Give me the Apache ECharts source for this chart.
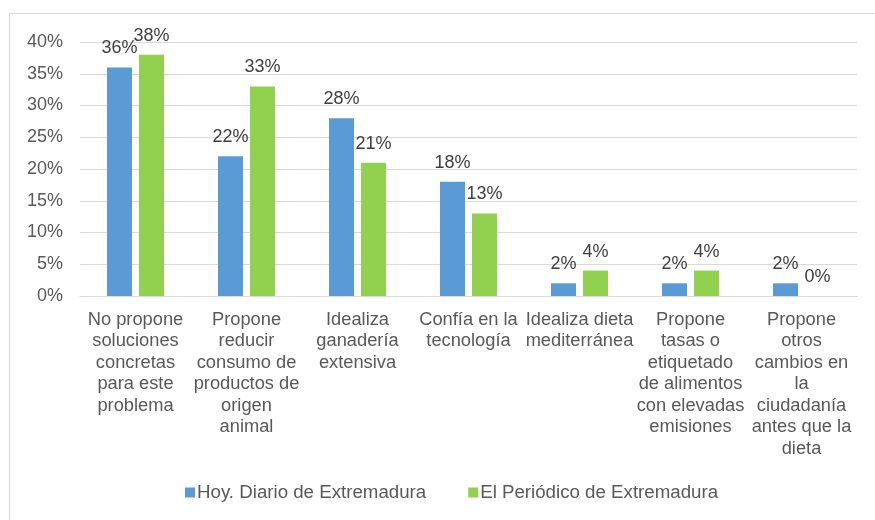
<!DOCTYPE html>
<html>
<head>
<meta charset="utf-8">
<script src="https://cdn.jsdelivr.net/npm/echarts@6/dist/echarts.min.js"></script>
<style>
  html, body { margin: 0; padding: 0; background: #fff; }
  #chart { width: 875px; height: 520px; }
</style>
</head>
<body>
<div id="chart"></div>
<script>
const categories = [
  'No propone\nsoluciones\nconcretas\npara este\nproblema',
  'Propone\nreducir\nconsumo de\nproductos de\norigen\nanimal',
  'Idealiza\nganadería\nextensiva',
  'Confía en la\ntecnología',
  'Idealiza dieta\nmediterránea',
  'Propone\ntasas o\netiquetado\nde alimentos\ncon elevadas\nemisiones',
  'Propone\notros\ncambios en\nla\nciudadanía\nantes que la\ndieta'
]
const seriesNames = ['Hoy. Diario de Extremadura', 'El Periódico de Extremadura']
const hoyValues = [36, 22, 28, 18, 2, 2, 2]
const periodicoValues = [38, 33, 21, 13, 4, 4, 0]
const yTicks = [0, 5, 10, 15, 20, 25, 30, 35, 40]

const FONT = "'Liberation Sans', Arial, sans-serif"
const chart = echarts.init(document.getElementById('chart'))

const valueLabel = {
  show: true,
  position: 'top',
  distance: 10,
  fontSize: 18,
  fontFamily: FONT,
  color: '#404040',
  formatter: '{c}%'
}

chart.setOption({
  animation: false,
  graphic: [{
    type: 'rect',
    shape: { x: 9.5, y: 13.5, width: 900, height: 600 },
    style: { fill: 'none', stroke: '#d9d9d9', lineWidth: 1 },
    silent: true
  }],
  grid: { left: 80, right: 18, top: 42, bottom: 224 },
  legend: {
    data: seriesNames,
    bottom: 13,
    left: 180,
    icon: 'rect',
    itemWidth: 10,
    itemHeight: 10,
    itemGap: 42,
    textStyle: { fontSize: 18.7, fontFamily: FONT, color: '#595959', padding: [0, 0, 0, -3] }
  },
  xAxis: {
    type: 'category',
    data: categories,
    axisLine: { lineStyle: { color: '#d9d9d9', width: 1 } },
    axisTick: { show: false },
    axisLabel: {
      interval: 0,
      margin: 13,
      fontSize: 18.3,
      lineHeight: 21.5,
      fontFamily: FONT,
      color: '#595959',
      align: 'center',
      verticalAlign: 'top'
    }
  },
  yAxis: {
    type: 'value',
    min: yTicks[0],
    max: yTicks[yTicks.length - 1],
    interval: 5,
    axisLine: { show: false },
    axisTick: { show: false },
    splitLine: { lineStyle: { color: '#d9d9d9', width: 1 } },
    axisLabel: {
      margin: 17,
      fontSize: 18,
      fontFamily: FONT,
      color: '#595959',
      formatter: '{value}%'
    }
  },
  series: [
    {
      name: seriesNames[0],
      type: 'bar',
      data: hoyValues,
      barWidth: 25,
      barGap: '28%',
      itemStyle: { color: '#5B9BD5' },
      label: valueLabel
    },
    {
      name: seriesNames[1],
      type: 'bar',
      data: periodicoValues,
      barWidth: 25,
      barGap: '28%',
      itemStyle: { color: '#92D050' },
      label: valueLabel
    }
  ]
})
</script>
</body>
</html>
